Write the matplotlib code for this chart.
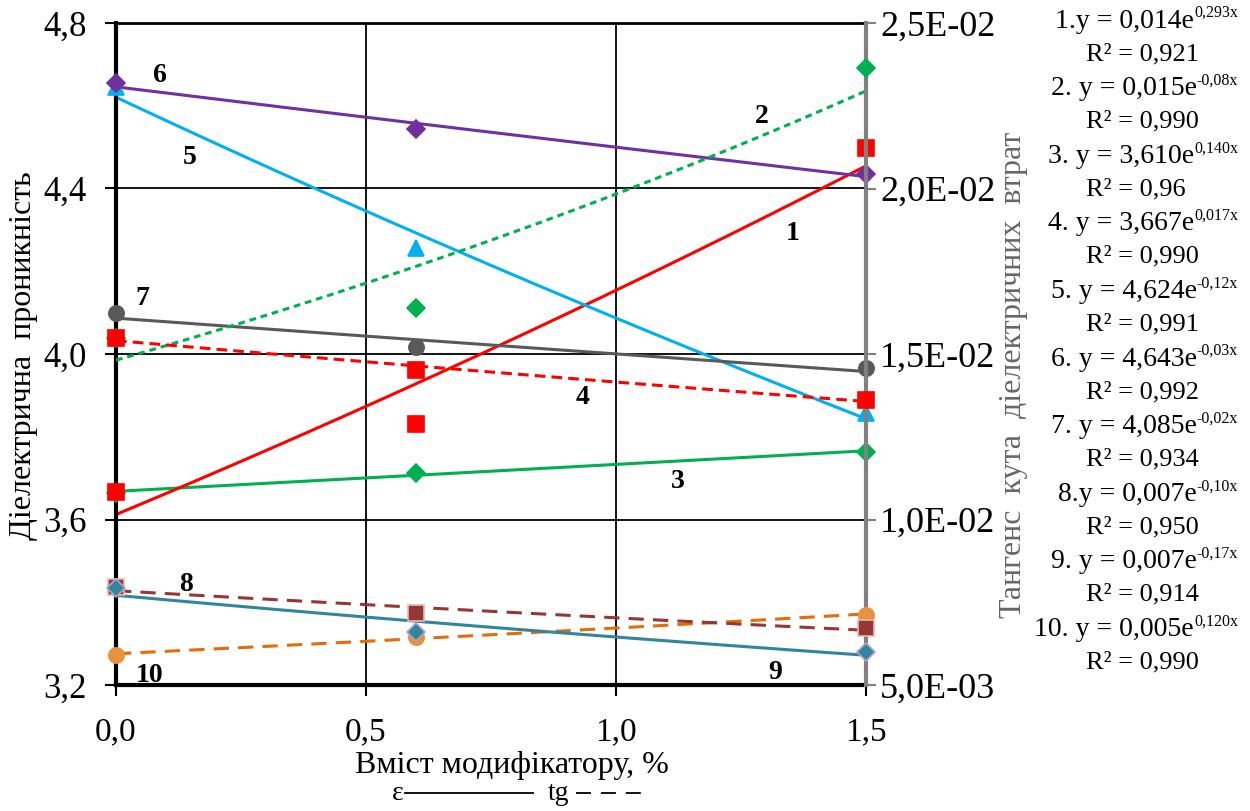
import numpy as np
import matplotlib
matplotlib.use("Agg")
import matplotlib.pyplot as plt
from matplotlib.ticker import FuncFormatter
from matplotlib.lines import Line2D

plt.rcParams["font.family"] = ["Liberation Serif", "DejaVu Serif"]

# modifier content, %
x_pts = [0.0, 0.6, 1.5]

# dielectric permittivity (left axis)
eps_1 = [3.666, 3.832, 4.499]
eps_3 = [3.665, 3.712, 3.764]
eps_5 = [4.645, 4.255, 3.857]
eps_6 = [4.654, 4.544, 4.434]
eps_7 = [4.098, 4.016, 3.965]

# loss tangent (right axis)
tg_2 = [0.01548, 0.01640, 0.02363]
tg_4 = [0.01548, 0.01452, 0.01361]
tg_8 = [0.00795, 0.00719, 0.00671]
tg_9 = [0.00793, 0.00661, 0.00601]
tg_10 = [0.00591, 0.00646, 0.00712]

eq_base = ["1.y = 0,014e", "2. y = 0,015e", "3. y = 3,610e", "4. y = 3,667e",
           "5. y = 4,624e", "6. y = 4,643e", "7. y = 4,085e", "8.y = 0,007e",
           "9. y = 0,007e", "10. y = 0,005e"]
eq_power = ["0,293x", "-0,08x", "0,140x", "0,017x", "-0,12x",
            "-0,03x", "-0,02x", "-0,10x", "-0,17x", "0,120x"]
r2_text = ["0,921", "0,990", "0,96", "0,990", "0,991",
           "0,992", "0,934", "0,950", "0,914", "0,990"]

LW = 2.2
W, H = 1250, 811


def trend(axis, y, color, **style):
    # exponential trend line, as the spreadsheet draws it
    k, b = np.polyfit(x_pts, np.log(y), 1)
    xs = np.linspace(x_pts[0], x_pts[-1], 200)
    axis.plot(xs, np.exp(b + k * xs), color=color, lw=LW, **style)


def points(axis, y, marker, size, face, edge=None):
    axis.plot(x_pts, y, ls="none", marker=marker, ms=size, mfc=face,
              mec=edge or face, mew=1.2, clip_on=False, zorder=5)


fig = plt.figure(figsize=(12.5, 8.11), dpi=100)
ax = fig.add_axes([116 / W, 1 - 685 / H, 750 / W, 662 / H])
ax2 = ax.twinx()

# permittivity: solid lines
trend(ax, eps_3, "#00B050")
points(ax, eps_3, "D", 9, "#00B050")
trend(ax, eps_1, "#FF0000")
points(ax, eps_1, "s", 11.5, "#FF0000")
trend(ax, eps_5, "#00B0F0")
points(ax, eps_5, "^", 11, "#00B0F0")
trend(ax, eps_6, "#7030A0")
points(ax, eps_6, "D", 9, "#7030A0")
trend(ax, eps_7, "#595959")
points(ax, eps_7, "o", 11, "#595959")

# loss tangent
trend(ax2, tg_2, "#00B050", dashes=(2.2, 1.6))
points(ax2, tg_2, "D", 9, "#00B050")
trend(ax2, tg_4, "#FF0000", dashes=(3.5, 2.0))
points(ax2, tg_4, "s", 11.5, "#FF0000")
trend(ax2, tg_10, "#E46C0A", dashes=(5, 3))
points(ax2, tg_10, "o", 11, "#E8913F")
trend(ax2, tg_8, "#953735", dashes=(5, 3))
points(ax2, tg_8, "s", 11, "#953735", "#E6B9B8")
trend(ax2, tg_9, "#31859C")
points(ax2, tg_9, "D", 9, "#31859C", "#B3A2C7")

ax.set_xlim(0, 1.5)
ax.set_ylim(3.2, 4.8)
ax2.set_ylim(0.005, 0.025)
ax.set_xticks([0, 0.5, 1.0, 1.5])
ax.set_yticks([3.2, 3.6, 4.0, 4.4, 4.8])
ax2.set_yticks([0.005, 0.010, 0.015, 0.020, 0.025])
comma1 = FuncFormatter(lambda v, p: f"{v:.1f}".replace(".", ","))
ax.xaxis.set_major_formatter(comma1)
ax.yaxis.set_major_formatter(comma1)
ax2.yaxis.set_major_formatter(FuncFormatter(lambda v, p: f"{v:.1E}".replace(".", ",")))

ax.grid(True, color="black", lw=1.3)
ax.set_axisbelow(True)

for s in ["left", "bottom"]:
    ax.spines[s].set_linewidth(3)
ax.spines["top"].set_linewidth(2)
ax.spines["right"].set_visible(False)
for s in ["left", "bottom", "top"]:
    ax2.spines[s].set_visible(False)
ax2.spines["right"].set_color("#808080")
ax2.spines["right"].set_linewidth(3)

ax.tick_params(axis="y", direction="out", length=8, width=1.5, pad=13, labelsize=25)
ax.tick_params(axis="x", direction="out", length=8, width=1.5, pad=15, labelsize=24)
ax2.tick_params(axis="y", direction="out", length=7, width=1.5, color="#808080",
                pad=3, labelsize=26)

# curve numbers
curve_labels = {
    "1": (1.354, 4.292), "2": (1.292, 4.573), "3": (1.124, 3.691),
    "4": (0.934, 3.896), "5": (0.148, 4.474), "6": (0.088, 4.674),
    "7": (0.052, 4.135), "8": (0.140, 3.442), "9": (1.318, 3.231),
    "10": (0.068, 3.222),
}
for name, (lx, ly) in curve_labels.items():
    ax.text(lx, ly, name, fontsize=20, fontweight="bold", ha="center", va="center",
            zorder=6)

fig.text(24 / W, 1 - 356 / H, "Діелектрична  проникність", rotation=90,
         ha="center", va="center", fontsize=23)
fig.text(1014 / W, 1 - 375 / H, "Тангенс  кута  діелектричних  втрат",
         rotation=90, ha="center", va="center", fontsize=23, color="#666666")
fig.text(512 / W, 1 - 765 / H, "Вміст модифікатору, %", ha="center",
         va="center", fontsize=23)

# line-style key under the axis title
fig.text(398 / W, 1 - 793 / H, "ε", ha="center", va="center", fontsize=20)
fig.text(559 / W, 1 - 793 / H, "tg", ha="center", va="center", fontsize=20)
fig.add_artist(Line2D([405 / W, 533 / W], [1 - 793 / H] * 2, color="black",
                      lw=1.3))
fig.add_artist(Line2D([576 / W, 645 / W], [1 - 793 / H] * 2, color="black",
                      lw=1.3, dashes=(8.3, 5.5)))

# trend equations: right aligned, exponent as a raised smaller text
fig.canvas.draw()
renderer = fig.canvas.get_renderer()
for i, (base, power, r2) in enumerate(zip(eq_base, eq_power, r2_text)):
    ey = 21 + i * 67.6
    sup = fig.text(1238 / W, 1 - (ey - 8) / H, power, ha="right", va="center",
                   fontsize=11.5)
    sw = sup.get_window_extent(renderer).width
    fig.text((1238 - sw) / W, 1 - ey / H, base, ha="right", va="center",
             fontsize=20)
    fig.text(1086 / W, 1 - (ey + 33) / H, "R² = " + r2, ha="left",
             va="center", fontsize=19)

fig.savefig("out.png", dpi=100)
